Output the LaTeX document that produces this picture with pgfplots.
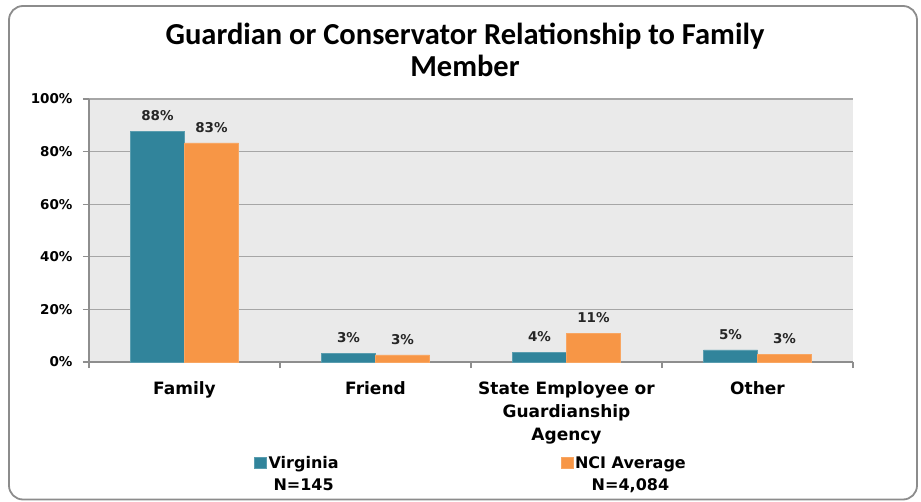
\documentclass[border=0pt]{standalone}
\usepackage{pgfplots}
\pgfplotsset{compat=1.18}
\usepackage{fontspec}
\setmainfont{DejaVu Sans}
\newfontfamily\titlefont{Carlito}
\definecolor{teal1}{HTML}{31849B}
\definecolor{orange1}{HTML}{F79646}
\definecolor{plotbg}{HTML}{EAEAEA}
\definecolor{gridc}{HTML}{A6A6A6}
\definecolor{axisc}{HTML}{8E8E8E}
\definecolor{bordc}{HTML}{8C8C8C}
\begin{document}
\begin{tikzpicture}
\path[use as bounding box] (0pt,0pt) rectangle (921pt,501pt);
\draw[bordc, line width=1.8pt, rounded corners=14pt] (9pt,1.5pt) rectangle (917pt,495pt);
\node[font=\titlefont\bfseries\fontsize{30.5}{32}\selectfont, align=center] at (465pt,451pt)
  {Guardian or Conservator Relationship to Family\\Member};
\begin{axis}[
  at={(89pt,139pt)}, anchor=south west,
  scale only axis, width=764pt, height=263pt,
  xmin=-0.5, xmax=3.5, ymin=0, ymax=100,
  ybar=0pt, bar width=54pt,
  axis background/.style={fill=plotbg},
  axis x line*=bottom, axis y line*=left,
  axis line style={axisc, line width=1.2pt},
  /pgf/number format/assume math mode=true,
  ytick={0,20,40,60,80,100},
  yticklabel={\pgfmathprintnumber{\tick}\%},
  ymajorgrids, grid style={gridc, line width=1.2pt},
  xtick={-0.5,0.5,1.5,2.5,3.5},
  x tick label as interval,
  xticklabels={Family,Friend,{State Employee or\\Guardianship\\Agency},Other},
  tick align=outside,
  major tick length=6pt,
  tick style={axisc, line width=1.2pt},
  yticklabel style={font=\bfseries\fontsize{13.5}{16}\selectfont, xshift=-7pt},
  xticklabel style={font=\bfseries\fontsize{17}{23}\selectfont, align=center, yshift=-10pt},
  point meta=explicit symbolic,
  nodes near coords={\pgfplotspointmeta\%},
  every node near coord/.append style={font=\bfseries\fontsize{13.5}{16}\selectfont, fill=plotbg, inner xsep=6pt, inner ysep=2pt, yshift=8pt, text=black!85},
  legend style={at={(0.5,-0.342)}, anchor=north, draw=none, fill=none,
    font=\bfseries\fontsize{16}{22}\selectfont, nodes={align=center},
    /tikz/every even column/.append style={column sep=220pt}},
  legend columns=2,
  legend image code/.code={\fill[#1] (0pt,6pt) rectangle (12pt,17pt);},
]
\addplot[fill=teal1, draw=teal1!80!white] coordinates {(0,87.8)[88] (1,3.4)[3] (2,3.8)[4] (3,4.6)[5]};
\addplot[fill=orange1, draw=orange1!85!white] coordinates {(0,83.3)[83] (1,2.7)[3] (2,11)[11] (3,3.0)[3]};
\addlegendentry{Virginia\\N=145}
\addlegendentry{NCI Average\\N=4,084}
\end{axis}
\end{tikzpicture}
\end{document}
